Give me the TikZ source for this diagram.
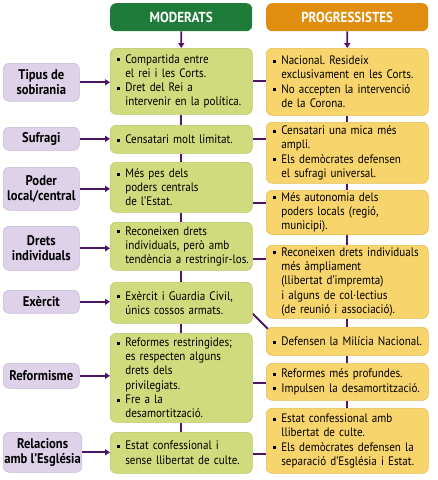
\documentclass[tikz,border=0pt]{standalone}
\usepackage{fontspec}
\setmainfont{PT Sans}[FakeStretch=0.9]
\usepackage{tikz}
\usetikzlibrary{arrows.meta,calc,positioning,backgrounds}
\usepackage{xcolor}
\frenchspacing
\hyphenpenalty=10000
\exhyphenpenalty=10000

\definecolor{modfill}{HTML}{CFDB7C}
\definecolor{modline}{HTML}{B8C665}
\definecolor{progfill}{HTML}{F8D46C}
\definecolor{progline}{HTML}{E6BD52}
\definecolor{labfill}{HTML}{DDD2EA}
\definecolor{labline}{HTML}{C8BAD8}
\definecolor{hdrgreen}{HTML}{1E7B3A}
\definecolor{hdrorange}{HTML}{E08E10}
\definecolor{conn}{HTML}{4D1562}

\newcommand{\bul}{\makebox[12pt][l]{\hspace{4pt}\raisebox{1.8pt}{\rule{3pt}{3pt}}}}
\newcommand{\ind}{\hspace*{12pt}}

\begin{document}
\begin{tikzpicture}[x=1pt,y=-1pt,
    box/.style={rectangle,rounded corners=6pt,anchor=north west,inner xsep=3pt,inner ysep=2pt,
      font=\fontsize{12.3}{14.3}\selectfont,text=black},
    hdrbox/.style={box,fill=#1,text=white,font=\fontsize{14.5}{16}\selectfont\bfseries,align=center},
    labbox/.style={box,fill=labfill,draw=labline,line width=0.6pt,minimum width=76pt,minimum height=#1,
      align=center,font=\fontsize{14}{15}\selectfont\bfseries,inner xsep=1pt},
    modbox/.style={box,fill=modfill,draw=modline,line width=0.6pt,text width=136pt,minimum height=#1,align=left},
    progbox/.style={box,fill=progfill,draw=progline,line width=0.6pt,text width=156pt,minimum height=#1,align=left},
    ar/.style={-{Triangle[length=5pt,width=6pt]},line width=1.8pt,conn},
    ln/.style={line width=1.8pt,conn}
  ]
    \useasboundingbox (0,0) rectangle (438,480);
    % headers
    \node[hdrbox=hdrgreen,minimum width=142pt,minimum height=28pt] (hm) at (110,3) {MODERATS};
    \node[hdrbox=hdrorange,minimum width=162pt,minimum height=28pt] (hp) at (266,3) {PROGRESSISTES};
    % labels
    \node[labbox=38pt] (l1) at (3,63) {Tipus de\\sobirania};
    \node[labbox=23pt] (l2) at (3,127) {Sufragi};
    \node[labbox=43pt] (l3) at (3,167) {Poder\\local/central};
    \node[labbox=44pt] (l4) at (3,226) {Drets\\individuals};
    \node[labbox=23pt] (l5) at (3,290) {Exèrcit};
    \node[labbox=25pt] (l6) at (3,363) {Reformisme};
    \node[labbox=40pt] (l7) at (3,432) {Relacions\\amb l'Església};
    % moderats
    \node[modbox=66pt] (m1) at (110,48) {\bul Compartida entre\\\ind el rei i les Corts.\\\bul Dret del Rei a\\\ind intervenir en la política.};
    \node[modbox=28pt] (m2) at (110,125) {\bul Censatari molt limitat.};
    \node[modbox=50pt] (m3) at (110,162) {\bul Més pes dels\\\ind poders centrals\\\ind de l'Estat.};
    \node[modbox=48pt] (m4) at (110,222) {\bul Reconeixen drets\\\ind individuals, però amb\\\ind tendència a restringir-los.};
    \node[modbox=41pt] (m5) at (110,282) {\bul Exèrcit i Guardia Civil,\\\ind únics cossos armats.};
    \node[modbox=89pt] (m6) at (110,333) {\bul Reformes restringides;\\\ind es respecten alguns\\\ind drets dels\\\ind privilegiats.\\\bul Fre a la\\\ind desamortització.};
    \node[modbox=41pt] (m7) at (110,432) {\bul Estat confessional i\\\ind sense llibertat de culte.};
    % progressistes
    \node[progbox=67pt] (p1) at (266,48) {\bul Nacional. Resideix\\\ind exclusivament en les Corts.\\\bul No accepten la intervenció\\\ind de la Corona.};
    \node[progbox=61pt] (p2) at (266,122) {\bul Censatari una mica més\\\ind ampli.\\\bul Els demòcrates defensen\\\ind el sufragi universal.};
    \node[progbox=44pt] (p3) at (266,190) {\bul Més autonomia dels\\\ind poders locals (regió,\\\ind municipi).};
    \node[progbox=73pt] (p4) at (266,245) {\bul Reconeixen drets individuals\\\ind més àmpliament\\\ind (llibertat d'impremta)\\\ind i alguns de col·lectius\\\ind (de reunió i associació).};
    \node[progbox=28pt] (p5) at (266,327) {\bul Defensen la Milícia Nacional.};
    \node[progbox=37pt] (p6) at (266,363) {\bul Reformes més profundes.\\\bul Impulsen la desamortització.};
    \node[progbox=65pt] (p7) at (266,408) {\bul Estat confessional amb\\\ind llibertat de culte.\\\bul Els demòcrates defensen la\\\ind separació d'Església i Estat.};
    % row points
    \coordinate (r3) at ($(m3.south east)+(0,-10)$);
    \coordinate (r4) at ($(m4.south east)+(0,-12)$);
    \coordinate (r5) at ($(m5.south east)+(0,-10)$);
    \coordinate (r6) at ($(m6.south east)+(0,-40)$);
    \coordinate (r7) at ($(m7.south east)+(0,-20)$);
    \begin{scope}[on background layer]
      \fill[white] (0,0) rectangle (438,480);
      \draw[ar] (hm) -- (m1);
      \draw[ar] (hp) -- (p1);
      \foreach \i in {1,...,7} {
        \draw[ar] (l\i.east) -- (l\i.east -| m\i.west);
      }
      \foreach \i/\j in {1/2,2/3,3/4,4/5,5/6,6/7} {
        \draw[ln] (m\i) -- (m\j);
        \draw[ln] (p\i) -- (p\j);
      }
      \draw[ln] (m1.east) -- (m1.east -| p1.west);
      \draw[ln] (m2.east) -- (m2.east -| p2.west);
      \draw[ln] (r3) -- (r3 -| p3.west);
      \draw[ln] (r4) -- (r4 -| p4.west);
      \draw[ln] (r5) -- ($(p5.north west)+(3,3)$);
      \draw[ln] (r6) -- (r6 -| p6.west);
      \draw[ln] (r7) -- (r7 -| p7.west);
    \end{scope}
  \end{tikzpicture}
\end{document}
